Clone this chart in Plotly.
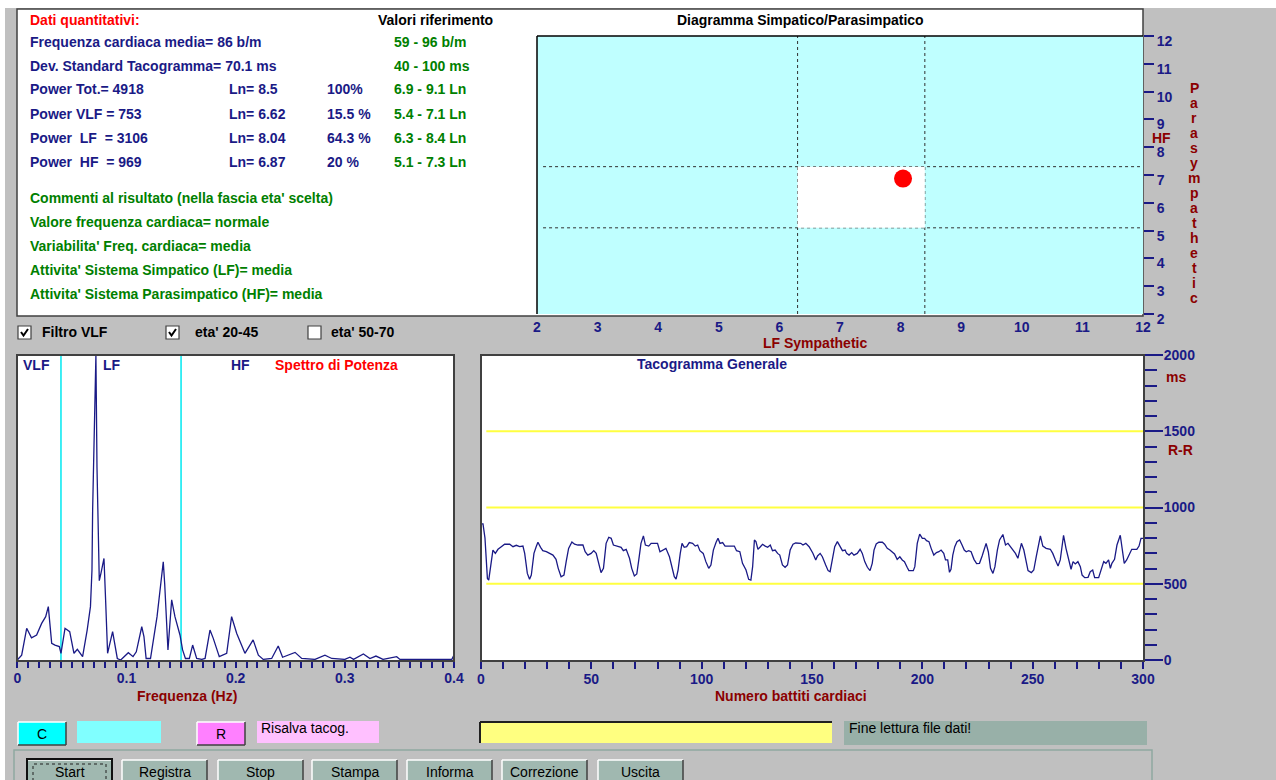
import plotly.graph_objects as go

W, H = 1276, 780
FONT = "Liberation Sans, Arial, sans-serif"
NAVY = "#1a1a86"
GREEN = "#008000"
DRED = "#8b0000"

# ---------------- data ----------------
diag_lf = [8.04]          # Ln LF
diag_hf = [6.87]          # Ln HF
lf_ref = [6.3, 8.4]
hf_ref = [5.1, 7.3]
diag_ticks = [2, 3, 4, 5, 6, 7, 8, 9, 10, 11, 12]

spec_freq = [0, 0.004, 0.0086, 0.013, 0.0177, 0.0223, 0.026, 0.0284, 0.0315, 0.0345,
             0.0385, 0.040, 0.0437, 0.048, 0.0519, 0.055, 0.0598, 0.064, 0.067, 0.0684,
             0.069, 0.070, 0.0708, 0.072, 0.073, 0.0742, 0.0751, 0.0766, 0.0794, 0.081,
             0.0827, 0.0873, 0.0916, 0.0947, 0.1017, 0.106, 0.109, 0.114, 0.116, 0.118,
             0.122, 0.128, 0.1337, 0.135, 0.138, 0.1414, 0.1444, 0.149, 0.1514, 0.154,
             0.1576, 0.1606, 0.1643, 0.169, 0.172, 0.1765, 0.1795, 0.185, 0.1918, 0.1963,
             0.201, 0.2085, 0.216, 0.2208, 0.2253, 0.233, 0.239, 0.243, 0.2544, 0.2605,
             0.2727, 0.2818, 0.288, 0.300, 0.3047, 0.308, 0.317, 0.323, 0.3285, 0.335,
             0.3475, 0.3505, 0.3597, 0.369, 0.381, 0.398, 0.4]
spec_power = [0, 0.016, 0.104, 0.073, 0.082, 0.12, 0.142, 0.175, 0.055, 0.049,
              0.044, 0.022, 0.104, 0.093, 0.022, 0.035, 0.011, 0.098, 0.175, 0.295,
              0.49, 0.69, 0.89, 1.0, 0.63, 0.38, 0.26, 0.284, 0.333, 0.186,
              0.022, 0.093, 0.005, 0, 0.024, 0.011, 0.027, 0.109, 0.077, 0.005,
              0.005, 0.142, 0.322, 0.25, 0.033, 0.197, 0.142, 0.082, 0.033, 0.005,
              0.005, 0.049, 0.005, 0.002, 0.005, 0.098, 0.071, 0.011, 0.022, 0.142,
              0.087, 0.022, 0.066, 0.016, 0.002, 0.005, 0.046, 0.009, 0.025, 0.005,
              0.002, 0.016, 0.005, 0.002, 0.009, 0.002, 0.02, 0.005, 0.013, 0.002,
              0.011, 0.002, 0.002, 0, 0.002, 0.002, 0.016]
band_limits = [0.04, 0.15]
spec_ticks = [0, 0.1, 0.2, 0.3, 0.4]

tach_beat = [0, 0.9, 1.8, 2.9, 3.5, 4.4, 5.4, 6.5, 7.7, 8.9, 10.7, 13.0, 14.5, 16.0, 17.5, 19.0,
             19.8, 21.0, 22.0, 22.8, 24.0, 25.0, 25.8, 27.0, 28.0, 29.6, 31.0, 32.6, 34.0, 35.0,
             36.3, 37.6, 38.6, 39.7, 41.2, 42.4, 43.9, 46.2, 47.2, 48.4, 49.9, 51.1, 52.2, 53.2,
             54.4, 55.5, 56.7, 57.9, 59.0, 60.0, 62.0, 63.5, 64.5, 65.8, 67.3, 68.3, 69.5, 70.6,
             71.5, 72.5, 73.6, 74.5, 76.0, 77.1, 78.6, 80.0, 81.1, 82.3, 83.8, 85.4, 86.6, 87.6,
             88.4, 89.3, 90.3, 91.1, 92.1, 93.2, 94.4, 95.9, 97.1, 98.2, 99.2, 100.7, 101.9, 103.2,
             104.2, 105.3, 106.5, 107.4, 108.3, 109.5, 110.6, 112.5, 114.8, 115.8, 117.3, 118.5,
             120.1, 121.3, 122.3, 123.1, 123.9, 124.6, 125.5, 126.4, 127.6, 128.8, 129.9, 131.1,
             132.1, 133.3, 134.4, 135.4, 136.6, 137.8, 138.9, 140.1, 141.4, 142.6, 144.9, 145.9,
             147.2, 148.7, 150.4, 151.7, 152.5, 153.7, 154.7, 156.2, 157.3, 158.2, 159.3, 160.3,
             161.5, 162.7, 163.8, 165.0, 165.7, 166.8, 168.0, 169.0, 170.5, 171.8, 172.8, 173.9,
             175.1, 176.3, 177.3, 178.1, 179.1, 180.3, 181.9, 182.9, 184.1, 185.3, 186.4, 187.4,
             188.6, 189.8, 190.9, 191.9, 193.1, 193.9, 195.9, 196.6, 197.7, 198.8, 200.0, 201.0,
             201.9, 203.0, 204.0, 205.2, 206.4, 207.5, 208.5, 209.7, 210.5, 211.5, 212.3, 213.0,
             213.8, 214.7, 215.7, 216.9, 218.0, 219.0, 219.9, 221.0, 222.1, 223.4, 224.6, 225.9,
             227.1, 228.3, 228.9, 229.9, 230.9, 232.0, 232.9, 234.0, 235.0, 236.5, 237.7, 238.8,
             240.0, 241.0, 242.2, 243.3, 244.2, 244.9, 246.0, 247.0, 247.9, 249.4, 250.5, 251.6,
             252.8, 253.5, 254.6, 256.1, 258.0, 259.1, 260.3, 261.5, 262.5, 263.3, 264.0, 265.1,
             266.3, 267.4, 268.3, 269.3, 270.5, 271.6, 272.4, 273.6, 275.1, 276.1, 277.2, 278.1,
             279.9, 281.1, 282.2, 283.2, 284.4, 285.2, 285.9, 287.1, 288.2, 289.7, 290.4, 291.5,
             292.6, 293.7, 294.9, 297.2, 298.2, 299.1, 300.0]
tach_rr = [892, 892, 800, 535, 524, 612, 721, 699, 726, 739, 759, 759, 743, 752, 743, 747,
           699, 568, 529, 557, 699, 743, 772, 739, 717, 710, 699, 688, 660, 601,
           546, 557, 645, 732, 774, 759, 754, 754, 710, 688, 699, 717, 699, 634,
           573, 601, 765, 805, 798, 754, 747, 739, 717, 726, 667, 601, 551, 564,
           656, 765, 814, 754, 747, 765, 765, 765, 710, 721, 732, 677, 601, 546,
           531, 590, 699, 765, 739, 743, 770, 765, 747, 754, 717, 699, 645, 601,
           623, 721, 770, 798, 765, 770, 747, 747, 747, 717, 710, 634,
           590, 529, 524, 612, 787, 776, 726, 739, 759, 747, 739, 754,
           717, 721, 699, 688, 623, 608, 623, 721, 759, 767, 765, 754,
           765, 743, 700, 656, 682, 699, 677, 623, 586, 579, 677, 743,
           776, 743, 717, 721, 699, 688, 704, 688, 699, 726, 699, 645,
           608, 586, 634, 721, 761, 772, 772, 759, 732, 721, 704, 695,
           660, 677, 656, 645, 608, 586, 586, 612, 765, 826, 798, 798,
           783, 776, 732, 688, 704, 710, 721, 699, 656, 656, 575, 595,
           688, 743, 776, 787, 754, 721, 710, 717, 710, 660, 632, 634,
           682, 747, 765, 710, 601, 568, 612, 721, 787, 823, 754, 765,
           743, 721, 699, 667, 721, 765, 721, 645, 586, 573, 590, 677,
           776, 814, 747, 732, 726, 699, 656, 617, 656, 765, 818, 732,
           656, 595, 645, 630, 645, 612, 557, 540, 542, 579, 590, 540,
           540, 590, 645, 634, 656, 601, 634, 660, 754, 818, 732, 634,
           656, 688, 726, 726, 747, 798, 798]
tach_ref_lines = [500, 1000, 1500]
tach_xticks = [0, 50, 100, 150, 200, 250, 300]
tach_yticks = [0, 500, 1000, 1500, 2000]

quant_labels = ["Frequenza cardiaca media= 86 b/m", "Dev. Standard Tacogramma= 70.1 ms",
                "Power Tot.= 4918", "Power VLF = 753", "Power  LF  = 3106", "Power  HF  = 969"]
ln_labels = ["", "", "Ln= 8.5", "Ln= 6.62", "Ln= 8.04", "Ln= 6.87"]
pct_labels = ["", "", "100%", "15.5 %", "64.3 %", "20 %"]
ref_labels = ["59 - 96 b/m", "40 - 100 ms", "6.9 - 9.1 Ln", "5.4 - 7.1 Ln", "6.3 - 8.4 Ln", "5.1 - 7.3 Ln"]
comment_labels = ["Commenti al risultato (nella fascia eta' scelta)",
                  "Valore frequenza cardiaca= normale",
                  "Variabilita' Freq. cardiaca= media",
                  "Attivita' Sistema Simpatico (LF)= media",
                  "Attivita' Sistema Parasimpatico (HF)= media"]
checkbox_labels = ["Filtro VLF", "eta' 20-45", "eta' 50-70"]
checkbox_state = [True, True, False]
button_labels = ["Start", "Registra", "Stop", "Stampa", "Informa", "Correzione", "Uscita"]


# ---------------- helpers ----------------
def px(x):
    return x / W


def py(y):
    return 1 - y / H


shapes = []
annotations = []


def rect(x0, y0, x1, y1, fill=None, line=None, width=1, dash=None, layer="below"):
    d = dict(type="rect", xref="paper", yref="paper",
             x0=px(x0), x1=px(x1), y0=py(y1), y1=py(y0), layer=layer,
             fillcolor=fill if fill else "rgba(0,0,0,0)",
             line=dict(color=line if line else "rgba(0,0,0,0)", width=width if line else 0))
    if dash:
        d["line"]["dash"] = dash
    shapes.append(d)


def hline(x0, x1, y, color, width=1, layer="above"):
    shapes.append(dict(type="line", xref="paper", yref="paper", x0=px(x0), x1=px(x1),
                       y0=py(y), y1=py(y), line=dict(color=color, width=width), layer=layer))


def vline(x, y0, y1, color, width=1, layer="above"):
    shapes.append(dict(type="line", xref="paper", yref="paper", x0=px(x), x1=px(x),
                       y0=py(y0), y1=py(y1), line=dict(color=color, width=width), layer=layer))


def txt(x, y, s, color, size=14, anchor="left", bold=True, family=FONT):
    annotations.append(dict(x=px(x), y=py(y), xref="paper", yref="paper", text=s,
                            showarrow=False, xanchor=anchor, yanchor="middle",
                            borderpad=0,
                            font=dict(family=family, size=size, color=color,
                                      weight="bold" if bold else "normal")))


def nb(s):
    return s.replace(" ", "\u00a0")


# ---------------- background / frames ----------------
rect(0, 0, W, 8, fill="white")
rect(0, 0, 5, H, fill="white")
# top panel
rect(17, 9, 1143, 316, fill="white", line="#404040", width=1.5)
# spectrum & tachogram frames
rect(17, 355, 454, 661, fill="white")
rect(481, 355, 1144, 661, fill="white")

# ---------------- text panel ----------------
txt(29, 20, "Dati quantitativi:", "#ff0000")
txt(377, 20, "Valori riferimento", "#000000")
txt(800, 20, "Diagramma Simpatico/Parasimpatico", "#000000", anchor="center")
row_y = [42, 66, 89, 114, 138, 162]
for i, yv in enumerate(row_y):
    txt(29, yv, nb(quant_labels[i]), NAVY)
    if ln_labels[i]:
        txt(228, yv, nb(ln_labels[i]), NAVY)
    if pct_labels[i]:
        txt(326, yv, nb(pct_labels[i]), NAVY)
    txt(393, yv, nb(ref_labels[i]), GREEN)
com_y = [198, 222, 246, 270, 294]
for i, yv in enumerate(com_y):
    txt(29, yv, comment_labels[i], GREEN)

# ---------------- check boxes ----------------
cb_x = [18, 166, 308]
cb_tx = [41, 194, 330]
for i in range(3):
    x0 = cb_x[i]
    rect(x0, 326, x0 + 13, 339, fill="white", line="#404040", width=1.2)
    if checkbox_state[i]:
        shapes.append(dict(type="path", xref="paper", yref="paper", layer="above",
                           path="M %f %f L %f %f L %f %f" % (px(x0 + 3), py(332), px(x0 + 5.5), py(335.5),
                                                             px(x0 + 10), py(329)),
                           line=dict(color="#000000", width=2)))
    txt(cb_tx[i], 332, checkbox_labels[i], "#000000")

# ---------------- axis texts ----------------
txt(815, 343, "LF Sympathetic", DRED, anchor="center")
txt(1161, 138, "HF", DRED, anchor="center")
para = "Parasympathetic"
for i, ch in enumerate(para):
    txt(1194, 88 + i * 15.0, ch, DRED, anchor="center")

txt(36, 365, "VLF", NAVY, anchor="center")
txt(112, 365, "LF", NAVY, anchor="center")
txt(240, 365, "HF", NAVY, anchor="center")
txt(336, 365, "Spettro di Potenza", "#ff0000", anchor="center")
txt(187, 696, "Frequenza (Hz)", DRED, anchor="center")

txt(712, 364, "Tacogramma Generale", NAVY, anchor="center")
txt(791, 696, "Numero battiti cardiaci", DRED, anchor="center")
txt(1176, 377, "ms", DRED, anchor="center")
txt(1180, 450, "R-R", DRED, anchor="center")

# ---------------- bottom controls ----------------
def button(x0, y0, x1, y1, fill, label=None, lcolor="#000000", size=14):
    rect(x0, y0, x1, y1, fill=fill)
    hline(x0, x1, y0, "#ffffff", 1.5)
    vline(x0, y0, y1, "#ffffff", 1.5)
    hline(x0, x1, y1, "#404040", 1.5)
    vline(x1, y0, y1, "#404040", 1.5)
    if label:
        txt((x0 + x1) / 2, (y0 + y1) / 2, label, lcolor, size=size, anchor="center", bold=False)


button(18, 722, 66, 745, "#00ffff", "C")
rect(77, 721, 161, 743, fill="#80ffff")
button(197, 722, 245, 745, "#ff80ff", "R")
rect(257, 721, 379, 743, fill="#ffc0ff")
txt(260, 728, "Risalva tacog.", "#000000", bold=False)
rect(480, 722, 832, 743, fill="#ffff80")
hline(480, 832, 722, "#202020", 2)
vline(480, 722, 743, "#202020", 2)
rect(844, 721, 1147, 745, fill="#98b0a8")
txt(848, 728, "Fine lettura file dati!", "#000000", bold=False)

rect(14, 750, 1152, 800, line="#8fa8a0", width=1.5)
btn_x = [(27, 112), (122, 207), (218, 303), (312, 397), (407, 492), (502, 587), (598, 683)]
for (a, b), lab in zip(btn_x, button_labels):
    button(a, 760, b, 790, "#a0b8b0")
    txt((a + b) / 2, 772, lab, "#000000", size=14, anchor="center", bold=False)
rect(27, 759, 112, 790, line="#101010", width=2, layer="above")
rect(33, 764, 106, 790, line="#202020", width=1, dash="dot", layer="above")

# ---------------- figure ----------------
fig = go.Figure()

# spectrum
fig.add_trace(go.Scatter(x=spec_freq, y=spec_power, mode="lines", xaxis="x2", yaxis="y2",
                         line=dict(color=NAVY, width=1.3), hoverinfo="skip"))
# tachogram
fig.add_trace(go.Scatter(x=tach_beat, y=tach_rr, mode="lines", xaxis="x3", yaxis="y3",
                         line=dict(color=NAVY, width=1.3), hoverinfo="skip"))
# sympathetic / parasympathetic point
fig.add_trace(go.Scatter(x=diag_lf, y=diag_hf, mode="markers", xaxis="x", yaxis="y",
                         marker=dict(color="#ff0000", size=18, line=dict(width=0))))

# diagram background and reference box
shapes.append(dict(type="rect", xref="x domain", yref="y domain", x0=0, x1=1, y0=0, y1=1,
                   fillcolor="#bfffff", line=dict(width=0), layer="below"))
shapes.append(dict(type="rect", xref="x", yref="y", x0=lf_ref[0], x1=lf_ref[1],
                   y0=hf_ref[0], y1=hf_ref[1], fillcolor="#ffffff", line=dict(width=0), layer="below"))
for v in lf_ref:
    shapes.append(dict(type="line", xref="x", yref="y domain", x0=v, x1=v, y0=0, y1=1,
                       line=dict(color="#303030", width=1, dash="dot"), layer="below"))
for v in hf_ref:
    shapes.append(dict(type="line", xref="x domain", yref="y", x0=0.01, x1=0.995, y0=v, y1=v,
                       line=dict(color="#303030", width=1, dash="dot"), layer="below"))
# diagram frame (top / left dark)
shapes.append(dict(type="line", xref="x domain", yref="y domain", x0=0, x1=1, y0=1, y1=1,
                   line=dict(color="#000000", width=1.5), layer="above"))
shapes.append(dict(type="line", xref="x domain", yref="y domain", x0=0, x1=0, y0=0, y1=1,
                   line=dict(color="#000000", width=1.5), layer="above"))

# spectral band limits
for v in band_limits:
    shapes.append(dict(type="line", xref="x2", yref="y2 domain", x0=v, x1=v, y0=0, y1=1,
                       line=dict(color="#00e8f0", width=1.5), layer="below"))
# tachogram reference lines
for v in tach_ref_lines:
    shapes.append(dict(type="line", xref="x3 domain", yref="y3", x0=0.008, x1=1, y0=v, y1=v,
                       line=dict(color="#ffff40", width=2), layer="below"))

# panel frames (drawn above)
rect(17, 355, 454, 661, line="#404040", width=2, layer="above")
rect(481, 355, 1144, 661, line="#404040", width=2, layer="above")

tickfont = dict(family=FONT, size=14, color=NAVY, weight="bold")
common = dict(showgrid=False, zeroline=False, showline=False, fixedrange=True, automargin=False)

fig.update_layout(
    width=W, height=H,
    autosize=False,
    margin=dict(l=0, r=0, t=0, b=0, pad=0, autoexpand=False),
    paper_bgcolor="#c0c0c0",
    plot_bgcolor="#ffffff",
    showlegend=False,
    shapes=shapes,
    annotations=annotations,
    xaxis=dict(domain=[px(537), px(1143)], range=[2, 12], anchor="y",
               tickmode="array", tickvals=diag_ticks, ticks="", ticklabelstandoff=3,
               tickfont=tickfont, **common),
    yaxis=dict(domain=[py(314), py(36)], range=[2, 12], anchor="x", side="right",
               tickmode="array", tickvals=diag_ticks, ticks="outside", ticklen=10,
               tickwidth=2, tickcolor=NAVY, ticklabelshift=5, tickfont=tickfont, **common),
    xaxis2=dict(domain=[px(17.3), px(454)], range=[0, 0.4], anchor="y2",
                tickmode="array", tickvals=spec_ticks, ticks="outside", ticklen=7,
                tickwidth=1.5, tickcolor=NAVY, ticklabelstandoff=-2,
                minor=dict(dtick=0.01, ticks="outside", ticklen=7, tickwidth=1.5, tickcolor=NAVY),
                tickfont=tickfont, **common),
    yaxis2=dict(domain=[py(660), py(355)], range=[0, 1.0], anchor="x2", visible=False,
                fixedrange=True, automargin=False),
    xaxis3=dict(domain=[px(481), px(1143)], range=[0, 300], anchor="y3",
                tickmode="array", tickvals=tach_xticks, ticks="outside", ticklen=8,
                tickwidth=1.5, tickcolor=NAVY, ticklabelstandoff=-2,
                minor=dict(dtick=10, ticks="outside", ticklen=8, tickwidth=1.5, tickcolor=NAVY),
                tickfont=tickfont, **common),
    yaxis3=dict(domain=[py(660), py(355)], range=[0, 2000], anchor="x3", side="right",
                tickmode="array", tickvals=tach_yticks, ticks="outside", ticklen=19,
                tickwidth=2, tickcolor=NAVY, ticklabelstandoff=-2,
                minor=dict(dtick=100, ticks="outside", ticklen=13, tickwidth=2, tickcolor=NAVY),
                tickfont=tickfont, **common),
)

fig.write_html("out.html", config={"displayModeBar": False},
               post_script="document.body.style.margin='0';document.body.style.overflow='hidden';")
